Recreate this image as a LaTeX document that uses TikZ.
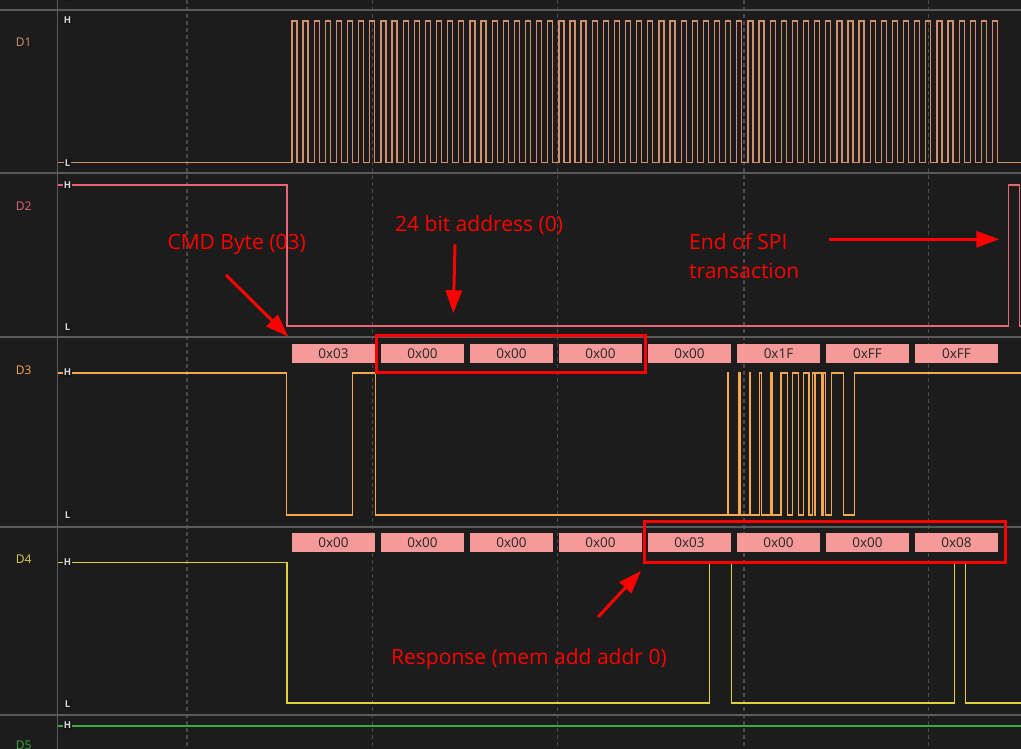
\documentclass[tikz,border=0pt]{standalone}
\usepackage{fontspec}
\setmainfont{Open Sans}
\usetikzlibrary{arrows.meta}
\definecolor{bg}{HTML}{1C1C1C}
\definecolor{sepc}{HTML}{5A5A5E}
\definecolor{gridc}{HTML}{4A4A4A}
\definecolor{lblbg}{HTML}{151515}
\definecolor{cOne}{HTML}{D4906C}
\definecolor{cTwo}{HTML}{E86478}
\definecolor{cThree}{HTML}{F5A84C}
\definecolor{cFour}{HTML}{E0D040}
\definecolor{cFive}{HTML}{40A840}
\definecolor{boxpink}{HTML}{F59999}
\definecolor{boxtxt}{HTML}{262626}
\definecolor{annred}{HTML}{FF0000}
\begin{document}
\begin{tikzpicture}[x=1pt,y=-1pt,
  sepline/.style={draw=sepc,line width=2pt},
  gridline/.style={draw=gridc,line width=1.5pt,dash pattern=on 4pt off 3pt},
  wave/.style={line width=1.3pt,line join=miter},
  lanelbl/.style={font=\fontsize{12}{14}\selectfont,inner sep=0pt},
  hl/.style={font=\fontsize{9.5}{10}\selectfont\bfseries,text=white!85!black,fill=lblbg,inner sep=1pt},
  bytebox/.style={fill=boxpink,minimum width=83pt,minimum height=18.5pt,inner sep=0pt,
    font=\fontsize{13.5}{14}\selectfont,text=boxtxt},
  redbox/.style={draw=annred,line width=3pt},
  ann/.style={font=\fontsize{21}{25}\selectfont,text=annred,inner sep=0pt,anchor=base west},
  redarrow/.style={draw=annred,line width=3pt,-{Triangle[length=23pt,width=16pt]}}]
\useasboundingbox (0,0) rectangle (1021,749);
\clip (0,0) rectangle (1021,749);
\fill[bg] (0,0) rectangle (1021,749);
% grid
\foreach \x in {187,372.7,557.5,744,928.5} \draw[gridline] (\x,0) -- (\x,749);
% separators
\foreach \y in {10,173.5,337,527,715} \draw[sepline] (0,\y) -- (1021,\y);
\draw[draw=sepc,line width=1.5pt] (57.5,0) -- (57.5,749);
% lane labels
\node[lanelbl,text=cOne] (l1) at (23.7,42) {D1};
\node[lanelbl,text=cTwo] (l2) at (23.7,206) {D2};
\node[lanelbl,text=cThree] (l3) at (23.7,370) {D3};
\node[lanelbl,text=cFour] (l4) at (23.7,559) {D4};
\node[lanelbl,text=cFive] (l5) at (23.7,745) {D5};
% D1 clock
\draw[wave,cOne] (58,162.5) foreach \i in {0,...,63} { -- ({292+\i*11.12},162.5) -- ++(0,-141.5) -- ++(5,0) -- ++(0,141.5) } -- (1022,162.5);
% D2 chip select
\draw[wave,cTwo] (58,185) -- (287,185) -- (287,326) -- (1008.7,326) -- (1008.7,185) -- (1019.3,185) -- (1019.3,326) -- (1022,326);
% D3 MOSI
\draw[wave,cThree] (58,373) -- (286.5,373) -- (286.5,515) -- (352.5,515) -- (352.5,373) -- (375.3,373) -- (375.3,515)
  foreach \a/\b in {727.3/727.9,738.7/739.9,749.3/750.5,759.3/761.7,770.3/771.2,772/772.8,781/787.3,792.7/798.3,803.3/809,812.3/815,815.6/822,823.3/825.7,831.7/843.3} { -- (\a,515) -- (\a,373) -- (\b,373) -- (\b,515) }
  -- (854.3,515) -- (854.3,373) -- (1022,373);
% D4 MISO
\draw[wave,cFour] (58,562.5) -- (287,562.5) -- (287,703) -- (709.3,703) -- (709.3,562.5) -- (731.3,562.5) -- (731.3,703) -- (954.7,703) -- (954.7,562.5) -- (965.3,562.5) -- (965.3,703) -- (1022,703);
% D5
\draw[wave,cFive] (58,726) -- (1022,726);
% H / L labels
\node[hl] (h1) at (67.5,20) {H};
\node[hl] (lo1) at (67.5,163) {L};
\node[hl] (h2) at (67.5,185) {H};
\node[hl] (lo2) at (67.5,327) {L};
\node[hl] (h3) at (67.5,372.5) {H};
\node[hl] (lo3) at (67.5,515) {L};
\node[hl] (h4) at (67.5,562) {H};
\node[hl] (lo4) at (67.5,704) {L};
\node[hl] (h5) at (67.5,725.5) {H};
\node[hl] (lo0) at (67.5,-3) {L};
% byte boxes
\foreach \i/\t in {0/0x03,1/0x00,2/0x00,3/0x00,4/0x00,5/0x1F,6/0xFF,7/0xFF}
  \node[bytebox] (mo\i) at ({333.5+89*\i},353.3) {\t};
\foreach \i/\t in {0/0x00,1/0x00,2/0x00,3/0x00,4/0x03,5/0x00,6/0x00,7/0x08}
  \node[bytebox] (mi\i) at ({333.5+89*\i},542.5) {\t};
% highlight rectangles
\draw[redbox] (376.7,335) rectangle (645.7,372.7);
\draw[redbox] (644,521.7) rectangle (1005.7,562.3);
% annotations
\node[ann] (tcmd) at (167.3,250) {CMD Byte (03)};
\node[ann] (taddr) at (395,231.7) {24 bit address (0)};
\node[ann] (tend1) at (689,249) {End of SPI};
\node[ann] (tend2) at (689,278.3) {transaction};
\node[ann] (tresp) at (391,664) {Response (mem add addr 0)};
\coordinate (cmdS) at (226,275);
\coordinate (cmdE) at (288.3,336.7);
\coordinate (adrS) at (455,244.3);
\coordinate (adrE) at (453.3,313.3);
\coordinate (endS) at (829,239.3);
\coordinate (endE) at (999.3,239.3);
\coordinate (rspS) at (598,617);
\coordinate (rspE) at (641,571);
\draw[redarrow] (cmdS) -- (cmdE);
\draw[redarrow] (adrS) -- (adrE);
\draw[redarrow] (endS) -- (endE);
\draw[redarrow] (rspS) -- (rspE);
\end{tikzpicture}
\end{document}
